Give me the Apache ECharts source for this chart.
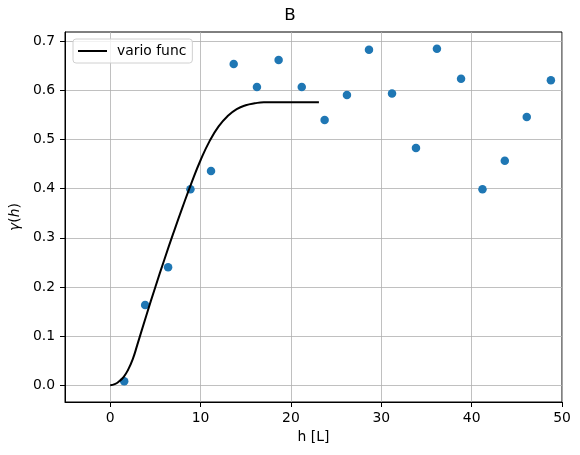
<!DOCTYPE html>
<html>
<head>
  <meta charset="utf-8" />
  <title>B</title>
  <script src="https://cdn.jsdelivr.net/npm/echarts@6/dist/echarts.min.js"></script>
  <style>
    html, body { margin: 0; padding: 0; background: #fff; }
    #main { width: 580px; height: 455px; }
  </style>
</head>
<body>
  <div id="main"></div>
  <script>
    // experimental variogram (lag, semivariance)
    const lagH = [1.55, 3.87, 6.41, 8.88, 11.16, 13.67, 16.24, 18.64, 21.2, 23.73,
      26.2, 28.64, 31.19, 33.84, 36.16, 38.83, 41.2, 43.67, 46.1, 48.77]
    const gammaH = [0.008, 0.163, 0.24, 0.399, 0.436, 0.654, 0.607, 0.662, 0.607, 0.54,
      0.591, 0.683, 0.594, 0.483, 0.685, 0.624, 0.399, 0.457, 0.546, 0.621]

    // fitted model
    const varioH = [0, 0.5, 1, 1.5, 2, 2.5, 3, 4, 5, 6, 7, 8, 9, 10, 11, 12, 13, 14, 15, 16, 17, 23.1]
    const varioG = [0, 0.002, 0.008, 0.017, 0.032, 0.053, 0.082, 0.142, 0.2, 0.256, 0.31, 0.362,
      0.412, 0.458, 0.497, 0.527, 0.548, 0.562, 0.57, 0.574, 0.576, 0.576]

    const xTicks = [0, 10, 20, 30, 40, 50]
    const yTicks = [0, 0.1, 0.2, 0.3, 0.4, 0.5, 0.6, 0.7]

    const font = 'DejaVu Sans'
    const chart = echarts.init(document.getElementById('main'))

    const option = {
      animation: false,
      title: {
        text: 'B',
        left: 'center',
        top: 7,
        padding: 0,
        textStyle: { fontFamily: font, fontSize: 16.7, fontWeight: 'normal', color: '#000' }
      },
      legend: {
        data: [{ name: 'vario func', icon: 'rect' }],
        left: 73,
        top: 39,
        padding: [5, 6, 5, 5],
        itemWidth: 29,
        itemHeight: 2,
        backgroundColor: 'rgba(255,255,255,0.8)',
        borderColor: '#d0d0d0',
        borderWidth: 1,
        borderRadius: 3,
        textStyle: { fontFamily: font, fontSize: 13.9, color: '#000', padding: [0, 0, 0, 5] }
      },
      grid: {
        left: 65,
        right: 18,
        top: 32,
        bottom: 53,
        show: true,
        borderColor: '#000',
        borderWidth: 1
      },
      xAxis: {
        type: 'value',
        min: -5,
        max: 50,
        name: 'h [L]',
        nameLocation: 'middle',
        nameGap: 27,
        nameTextStyle: { fontFamily: font, fontSize: 13.9, color: '#000' },
        axisLine: { show: true, onZero: false, lineStyle: { color: '#000', width: 1 } },
        axisTick: { show: true, length: 5, customValues: xTicks, lineStyle: { color: '#000' } },
        axisLabel: {
          customValues: xTicks,
          margin: 9,
          fontFamily: font,
          fontSize: 13.9,
          color: '#000'
        },
        splitLine: { show: true, lineStyle: { color: '#b0b0b0', width: 0.8 } }
      },
      yAxis: {
        type: 'value',
        min: -0.0343,
        max: 0.7192,
        name: '{g|γ}{n|(}{g|h}{n|)}',
        nameLocation: 'middle',
        nameGap: 40,
        nameTextStyle: {
          fontFamily: font,
          fontSize: 13.9,
          color: '#000',
          rich: {
            g: { fontFamily: font, fontSize: 13.9, fontStyle: 'italic', color: '#000' },
            n: { fontFamily: font, fontSize: 13.9, color: '#000' }
          }
        },
        axisLine: { show: true, onZero: false, lineStyle: { color: '#000', width: 1 } },
        axisTick: { show: true, length: 5, customValues: yTicks, lineStyle: { color: '#000' } },
        axisLabel: {
          customValues: yTicks,
          margin: 10,
          fontFamily: font,
          fontSize: 13.9,
          color: '#000',
          formatter: v => v.toFixed(1)
        },
        splitLine: { show: true, lineStyle: { color: '#b0b0b0', width: 0.8 } }
      },
      series: [
        {
          name: 'experimental',
          type: 'scatter',
          symbolSize: 8.5,
          itemStyle: { color: '#1f77b4', opacity: 1 },
          z: 2,
          data: lagH.map((h, i) => [h, gammaH[i]])
        },
        {
          name: 'vario func',
          type: 'line',
          symbol: 'none',
          smooth: 0.5,
          lineStyle: { color: '#000', width: 2 },
          itemStyle: { color: '#000' },
          z: 3,
          data: varioH.map((h, i) => [h, varioG[i]])
        }
      ]
    }

    chart.setOption(option)
  </script>
</body>
</html>
